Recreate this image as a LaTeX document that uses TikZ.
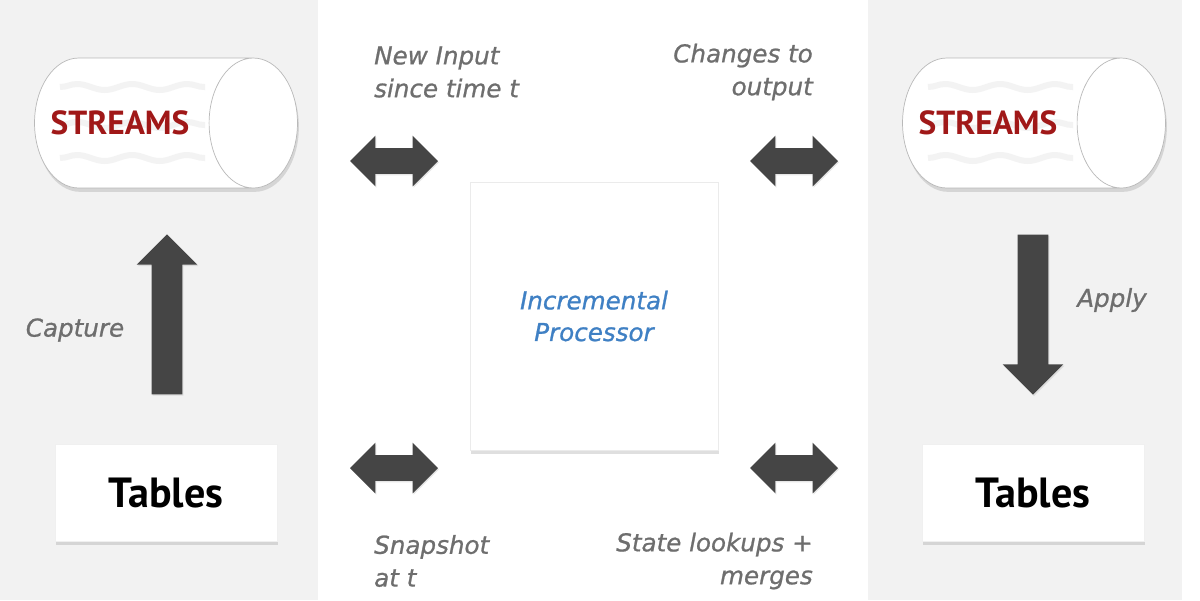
\documentclass[tikz,border=0pt]{standalone}
\usepackage{fontspec}
\setmainfont{DejaVu Sans}
\newfontfamily\boxfont{PT Sans}
\newfontfamily\notefont{DejaVu Sans}[FakeBold=0.9]
\usetikzlibrary{shapes.geometric,shapes.arrows,shadows,decorations.pathmorphing}
\definecolor{panelgray}{HTML}{F2F2F2}
\definecolor{arrowgray}{HTML}{454545}
\definecolor{labelgray}{HTML}{6E6E6E}
\definecolor{streamred}{HTML}{A01818}
\definecolor{procblue}{HTML}{3F80C4}
\definecolor{wavegray}{HTML}{F3F3F3}

\tikzset{
  softshadow/.style={drop shadow={shadow xshift=0.8pt, shadow yshift=-2.2pt, opacity=0.25}},
  streambox/.style={cylinder, shape aspect=0.68, draw=gray!55, fill=white, inner xsep=0pt, inner ysep=1.3cm, minimum height=5.26cm, anchor=shape center, softshadow},
  streamtext/.style={text=streamred, font=\boxfont\bfseries\fontsize{19}{22}\selectfont},
  wave/.style={wavegray, line width=0.12cm, decorate, decoration={snake, segment length=1.1cm, amplitude=0.06cm}},
  tablebox/.style={fill=white, draw=black!6, minimum width=4.44cm, minimum height=1.94cm, font=\boxfont\bfseries\fontsize{24}{28}\selectfont, softshadow},
  procbox/.style={fill=white, draw=black!8, minimum width=4.96cm, minimum height=5.36cm, align=center, text=procblue, font=\notefont\fontsize{14}{18}\selectfont\itshape, softshadow},
  blockarrow/.style={single arrow, fill=arrowgray, inner sep=0.3cm, single arrow head extend=0.3cm, minimum height=3.2cm, drop shadow={shadow xshift=0.6pt, shadow yshift=-0.8pt, opacity=0.2}},
  swaparrow/.style={double arrow, fill=arrowgray, inner sep=0.25cm, double arrow head extend=0.25cm, minimum height=1.76cm, drop shadow={shadow xshift=0.6pt, shadow yshift=-0.8pt, opacity=0.2}},
  note/.style={text=labelgray, font=\notefont\fontsize{14}{18.7}\selectfont\itshape}
}

\begin{document}
\begin{tikzpicture}[x=0.02cm, y=-0.02cm]
    \useasboundingbox (0,0) rectangle (1200,600);
    % Panels
    \fill[panelgray] (0,0) rectangle (318,600);
    \fill[panelgray] (868,0) rectangle (1182,600);

    % Streams
    \node[streambox] at (166,123) (streamsL) {};
    \node[streambox] at (1034,123) (streamsR) {};
    \foreach \dx in {0,868}
        \foreach \wy in {87,125,158}
            \draw[wave] (60+\dx,\wy) -- (205+\dx,\wy);
    \node[streamtext] at (120,123) (streamsLtext) {STREAMS};
    \node[streamtext] at (988,123) (streamsRtext) {STREAMS};

    % Boxes
    \node[tablebox] at (166,493) (tablesL) {Tables};
    \node[tablebox] at (1033,493) (tablesR) {Tables};
    \node[procbox] at (594,316) (proc) {Incremental\\Processor};

    % Arrows
    \node[blockarrow, shape border rotate=90] at (167,322) (capture) {};
    \node[blockarrow, shape border rotate=270] at (1033,307) (apply) {};
    \node[swaparrow] at (394,161) (newinput) {};
    \node[swaparrow] at (794,161) (changes) {};
    \node[swaparrow] at (394,468) (snapshot) {};
    \node[swaparrow] at (794,468) (lookups) {};

    % Labels
    \node[note] at (75,330) (captureLabel) {Capture};
    \node[note] at (1112,300) (applyLabel) {Apply};
    \node[note, anchor=west, align=left] at (368,72) (newinputLabel) {New Input\\since time t};
    \node[note, anchor=east, align=right] at (819,72) (changesLabel) {Changes to\\output};
    \node[note, anchor=west, align=left] at (368,561) (snapshotLabel) {Snapshot\\at t};
    \node[note, anchor=east, align=right] at (819,561) (lookupsLabel) {State lookups +\\merges};
\end{tikzpicture}
\end{document}
